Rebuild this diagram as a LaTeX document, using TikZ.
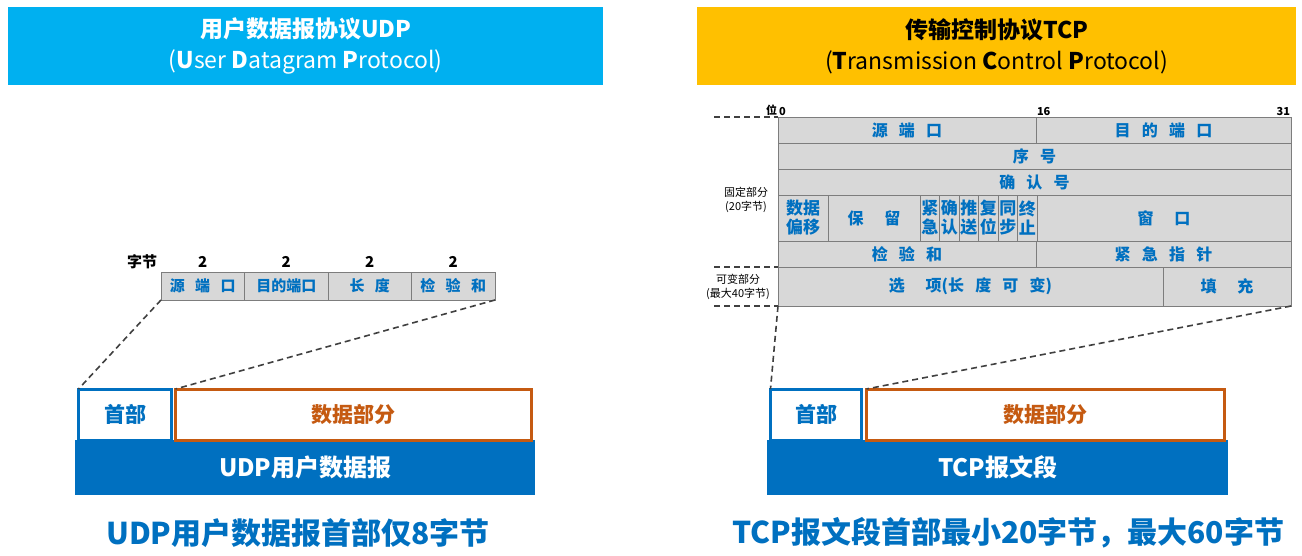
\documentclass[tikz,border=0pt]{standalone}
\usepackage{fontspec}
\setmainfont{Noto Sans CJK SC}
\definecolor{udpcyan}{RGB}{0,176,240}
\definecolor{tcpgold}{RGB}{255,192,0}
\definecolor{hdrblue}{RGB}{0,112,192}
\definecolor{datarust}{RGB}{197,90,17}
\definecolor{cellgray}{RGB}{216,216,216}
\definecolor{cellline}{RGB}{125,125,125}
\usetikzlibrary{positioning}
\newcommand{\fsz}[2]{\fontsize{#1}{#2}\selectfont}
\newcommand{\gp}{\hspace{0.7em}}
\newcommand{\wgp}{\hspace{1.3em}}
\tikzset{
  headband/.style={fill=#1, anchor=north west, inner sep=0pt, minimum width=595pt, minimum height=78pt, align=center, font=\fsz{23}{31}},
  cell/.style={draw=cellline, line width=0.8pt, fill=cellgray, text=hdrblue, inner sep=0pt, outer sep=0pt, anchor=north west, align=center, font=\bfseries\fsz{16}{16}},
  ucell/.style={cell, minimum width=83.5pt, minimum height=28pt, font=\bfseries\fsz{15}{15}},
  flagcell/.style={cell, minimum width=19.5pt, minimum height=46pt, font=\bfseries\fsz{17}{19}},
  bytelbl/.style={inner sep=0pt, font=\bfseries\fsz{15}{15}},
  bitlbl/.style={inner sep=1pt, outer sep=0pt, font=\bfseries\fsz{11}{11}},
  sidelbl/.style={align=center, inner sep=0pt, font=\fsz{11}{14}},
  guide/.style={draw=black!75, line width=1.6pt, dash pattern=on 6pt off 4pt},
  hdbox/.style={draw=hdrblue, line width=3pt, fill=white, text=hdrblue, anchor=north west, inner sep=0pt, outer sep=0pt, minimum height=51pt, font=\bfseries\fsz{21}{21}},
  databox/.style={hdbox, draw=datarust, text=datarust},
  band/.style={fill=hdrblue, text=white, anchor=north west, inner sep=0pt, minimum height=55pt, font=\bfseries\fsz{24}{24}},
  summary/.style={text=hdrblue, inner sep=0pt, font=\bfseries\fsz{30}{30}}
}

\begin{document}
\begin{tikzpicture}[x=1pt, y=-1pt]
  \useasboundingbox[fill=white] (0,0) rectangle (1302,556);

  % titles
  \node [headband=udpcyan, text=white] (udptitle) at (8,7) {{\bfseries 用户数据报协议UDP}\\(\textbf{U}ser \textbf{D}atagram \textbf{P}rotocol)};
  \node [headband=tcpgold, minimum width=599pt] (tcptitle) at (697,7) {{\bfseries 传输控制协议TCP}\\(\textbf{T}ransmission \textbf{C}ontrol \textbf{P}rotocol)};

  % UDP header: 
  \node [ucell] (usrc) at (161,272) {源\gp 端\gp 口};
  \node [ucell, right=0pt of usrc] (udst) {目的端口};
  \node [ucell, right=0pt of udst] (ulen) {长\gp 度};
  \node [ucell, right=0pt of ulen] (uchk) {检\gp 验\gp 和};
  \node [bytelbl, above=4pt of usrc] (usz1) {2};
  \node [bytelbl, above=4pt of udst] (usz2) {2};
  \node [bytelbl, above=4pt of ulen] (usz3) {2};
  \node [bytelbl, above=4pt of uchk] (usz4) {2};
  \node [bytelbl] (ubytes) at (142,262) {字节};

  % UDP datagram: 
  \node [band, minimum width=460pt] (uband) at (75,440) {UDP用户数据报};
  \node [hdbox, minimum width=93pt] (uhead) at (78.5,389) {首部};
  \node [databox, minimum width=356pt] (udata) at (175.5,389) {数据部分};
  \draw [guide] (usrc.south west) -- (uhead.north west);
  \draw [guide] (uchk.south east) -- (udata.north west);

  % TCP header: 
  \node [cell, minimum width=258pt, minimum height=26pt] (tsrc) at (778,117) {源\gp 端\gp 口};
  \node [cell, minimum width=255pt, minimum height=26pt, right=0pt of tsrc] (tdst) {目\gp 的\gp 端\gp 口};
  \node [cell, minimum width=513pt, minimum height=26pt] (tseq) at (tsrc.south west) {序\gp 号};
  \node [cell, minimum width=513pt, minimum height=26pt] (tack) at (tseq.south west) {确\gp 认\gp 号};
  \node [cell, minimum width=50pt, minimum height=46pt, font=\bfseries\fsz{17}{19}] (toff) at (tack.south west) {数据\\偏移};
  \node [cell, minimum width=92pt, minimum height=46pt, right=0pt of toff] (tres) {保\wgp 留};
  \node [flagcell, right=0pt of tres] (furg) {紧\\急};
  \node [flagcell, right=0pt of furg] (fack) {确\\认};
  \node [flagcell, right=0pt of fack] (fpsh) {推\\送};
  \node [flagcell, right=0pt of fpsh] (frst) {复\\位};
  \node [flagcell, right=0pt of frst] (fsyn) {同\\步};
  \node [flagcell, right=0pt of fsyn] (ffin) {终\\止};
  \node [cell, minimum width=254pt, minimum height=46pt, right=0pt of ffin] (twin) {窗\wgp 口};
  \node [cell, minimum width=258pt, minimum height=26pt] (tchk) at (toff.south west) {检\gp 验\gp 和};
  \node [cell, minimum width=255pt, minimum height=26pt, right=0pt of tchk] (turg) {紧\gp 急\gp 指\gp 针};
  \node [cell, minimum width=385pt, minimum height=39pt] (topt) at (tchk.south west) {选\wgp 项(长\gp 度\gp 可\gp 变)};
  \node [cell, minimum width=128pt, minimum height=39pt, right=0pt of topt] (tpad) {填\wgp 充};

  \node [bitlbl, anchor=south west] (bit0) at (tsrc.north west) {0};
  \node [bitlbl, anchor=south east] (bitpos) at (bit0.south west) {位};
  \node [bitlbl, anchor=south west] (bit16) at (tdst.north west) {16};
  \node [bitlbl, anchor=south east] (bit31) at (tdst.north east) {31};

  % fixed / variable part
  \coordinate (fixtop) at (714,117);
  \coordinate (fixmid) at (714,267);
  \coordinate (fixbot) at (714,306);
  \draw [guide, line width=1.2pt] (fixtop) -- (tsrc.north west);
  \draw [guide, line width=1.2pt] (fixmid) -- (topt.north west);
  \draw [guide, line width=1.2pt] (fixbot) -- (topt.south west);
  \node [sidelbl] (fixlbl) at (746,200) {固定部分\\(20字节)};
  \node [sidelbl] (varlbl) at (738,287) {可变部分\\(最大40字节)};

  % TCP segment: 
  \node [band, minimum width=461pt] (tband) at (767,440) {TCP报文段};
  \node [hdbox, minimum width=91pt] (thead) at (770.5,389) {首部};
  \node [databox, minimum width=358pt] (tdata) at (866.5,389) {数据部分};
  \draw [guide] (topt.south west) -- (thead.north west);
  \draw [guide] (tpad.south east) -- (tdata.north west);

  % summaries
  \node [summary] (usum) at (298,533) {UDP用户数据报首部仅8字节};
  \node [summary, anchor=west] (tsum) at (732,533) {TCP报文段首部最小20字节，最大60字节};

\end{tikzpicture}
\end{document}
